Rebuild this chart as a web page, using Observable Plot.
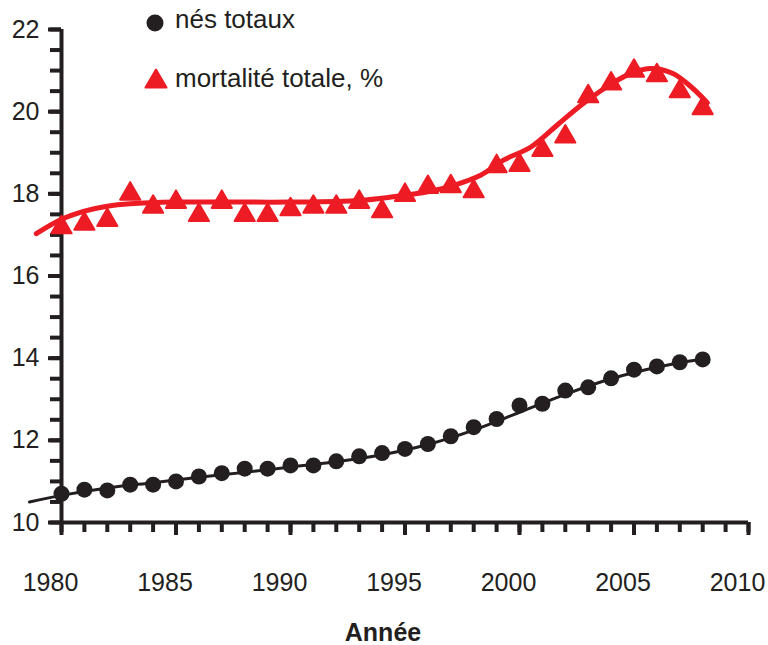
<!DOCTYPE html>
<html>
<head>
<meta charset="utf-8">
<script src="https://cdn.jsdelivr.net/npm/d3@7"></script>
<script src="https://cdn.jsdelivr.net/npm/@observablehq/plot@0.6"></script>
<style>
  html, body { margin: 0; padding: 0; background: #fff; }
  #wrap { position: relative; width: 768px; height: 645px; font-family: "Liberation Sans", Arial, sans-serif; color: #231f20; }
  .lab { position: absolute; white-space: nowrap; }
</style>
</head>
<body>
<div id="wrap"></div>
<script>
// ---- data ----
const years = [1980,1981,1982,1983,1984,1985,1986,1987,1988,1989,1990,1991,1992,1993,1994,1995,1996,1997,1998,1999,2000,2001,2002,2003,2004,2005,2006,2007,2008];
const nesTotaux = [10.70,10.80,10.78,10.92,10.92,11.00,11.12,11.20,11.31,11.31,11.39,11.39,11.49,11.61,11.69,11.79,11.91,12.10,12.32,12.52,12.85,12.89,13.21,13.29,13.51,13.72,13.80,13.90,13.97];
const mortalite = [17.18,17.27,17.36,18.00,17.68,17.80,17.48,17.80,17.48,17.48,17.62,17.68,17.68,17.80,17.57,17.97,18.16,18.18,18.06,18.67,18.70,19.06,19.39,20.37,20.68,20.99,20.88,20.49,20.08];

// fitted (smoothed) curves
const fitYearsNes = [1978.6,1980,1982,1984,1986,1988,1990,1992,1994,1996,1998,2000,2002,2004,2006,2008];
const fitNes      = [10.50,10.66,10.84,10.97,11.10,11.22,11.35,11.48,11.65,11.90,12.25,12.68,13.12,13.50,13.78,13.98];
const fitYearsMort = [1978.9,1980,1981,1982,1983,1985,1990,1993,1994.5,1996,1997.1,1998.3,1999.3,2000.5,2001.7,2002.7,2003.8,2004.7,2005.7,2006.7,2007.5,2008.2];
const fitMort      = [17.03,17.38,17.58,17.70,17.76,17.80,17.80,17.84,17.93,18.05,18.20,18.45,18.82,19.14,19.70,20.16,20.60,20.89,21.05,20.93,20.60,20.22];

const majorX = [1980,1985,1990,1995,2000,2005,2010];
const minorX = d3.range(1980, 2011, 1);
const majorY = [10,12,14,16,18,20,22];
const minorY = d3.range(10, 22.01, 0.5);

const legendItems = ["nés totaux", "mortalité totale, %"];
const xTitle = "Année";

// ---- build tables ----
const pts = years.map((y, i) => ({year: y, nes: nesTotaux[i], mort: mortalite[i]}));
const fitN = fitYearsNes.map((y, i) => ({year: y, v: fitNes[i]}));
const fitM = fitYearsMort.map((y, i) => ({year: y, v: fitMort[i]}));

const INK = "#231f20";
const RED = "#ed1c24";
const blank = () => "";

const chart = Plot.plot({
  width: 768,
  height: 645,
  marginLeft: 61,
  marginRight: 20,
  marginTop: 29,
  marginBottom: 123,
  style: {fontFamily: "'Liberation Sans', Arial, sans-serif", color: INK, background: "white", overflow: "visible"},
  x: {domain: [1980, 2010]},
  y: {domain: [10, 22]},
  marks: [
    // minor ticks
    Plot.axisX({ticks: minorX, tickSize: 10, strokeWidth: 4, stroke: INK, tickFormat: blank, label: null}),
    Plot.axisY({ticks: minorY, tickSize: 11, strokeWidth: 4, stroke: INK, tickFormat: blank, label: null}),
    // major ticks
    Plot.axisX({ticks: majorX, tickSize: 13, strokeWidth: 4, stroke: INK, tickFormat: blank, label: null}),
    // major x labels (shifted left like the original)
    Plot.axisX({ticks: majorX, tickSize: 0, tickPadding: 51, fill: INK,
      tickFormat: d => String(d), fontSize: 25, dx: -11, label: null}),
    Plot.axisY({ticks: majorY, tickSize: 13, tickPadding: 9, strokeWidth: 4, stroke: INK, fill: INK,
      tickFormat: d => String(d), fontSize: 25, label: null}),
    // axis lines
    Plot.ruleX([1980], {y1: 10, y2: 22, stroke: INK, strokeWidth: 4}),
    Plot.ruleY([10], {x1: 1980, x2: 2010, stroke: INK, strokeWidth: 4}),
    // black series
    Plot.line(fitN, {x: "year", y: "v", curve: "catmull-rom", stroke: INK, strokeWidth: 3}),
    Plot.dot(pts, {x: "year", y: "nes", r: 8, fill: INK, stroke: "none", symbol: "circle"}),
    // red series
    Plot.line(fitM, {x: "year", y: "v", curve: "catmull-rom", stroke: RED, strokeWidth: 5, strokeLinecap: "round"}),
    Plot.dot(pts, {x: "year", y: "mort", r: 7.5, symbol: "triangle", fill: RED, stroke: RED, strokeWidth: 2, strokeLinejoin: "round"})
  ]
});

const wrap = document.getElementById("wrap");
wrap.appendChild(chart);

// legend (HTML overlay)
function addLegend(text, symbol, top, mx, my) {
  const s = document.createElementNS("http://www.w3.org/2000/svg", "svg");
  s.setAttribute("width", 30); s.setAttribute("height", 30);
  s.style.position = "absolute";
  s.style.left = (mx - 15) + "px";
  s.style.top = (my - 15) + "px";
  if (symbol === "circle") {
    s.innerHTML = `<circle cx="15" cy="15" r="8.5" fill="${INK}"/>`;
  } else {
    s.innerHTML = `<path d="M15,5.5 L25.5,23.5 L4.5,23.5 Z" fill="${RED}" stroke="${RED}" stroke-width="2" stroke-linejoin="round"/>`;
  }
  wrap.appendChild(s);
  const d = document.createElement("div");
  d.className = "lab";
  d.textContent = text;
  d.style.left = "175px";
  d.style.top = top + "px";
  d.style.fontSize = "26px";
  d.style.lineHeight = "26px";
  wrap.appendChild(d);
}
addLegend(legendItems[0], "circle", 6, 155, 23);
addLegend(legendItems[1], "triangle", 65, 156, 79);

const t = document.createElement("div");
t.className = "lab";
t.textContent = xTitle;
t.style.left = "283px";
t.style.width = "200px";
t.style.textAlign = "center";
t.style.top = "620px";
t.style.fontSize = "25px";
t.style.lineHeight = "25px";
t.style.fontWeight = "bold";
wrap.appendChild(t);
</script>
</body>
</html>
